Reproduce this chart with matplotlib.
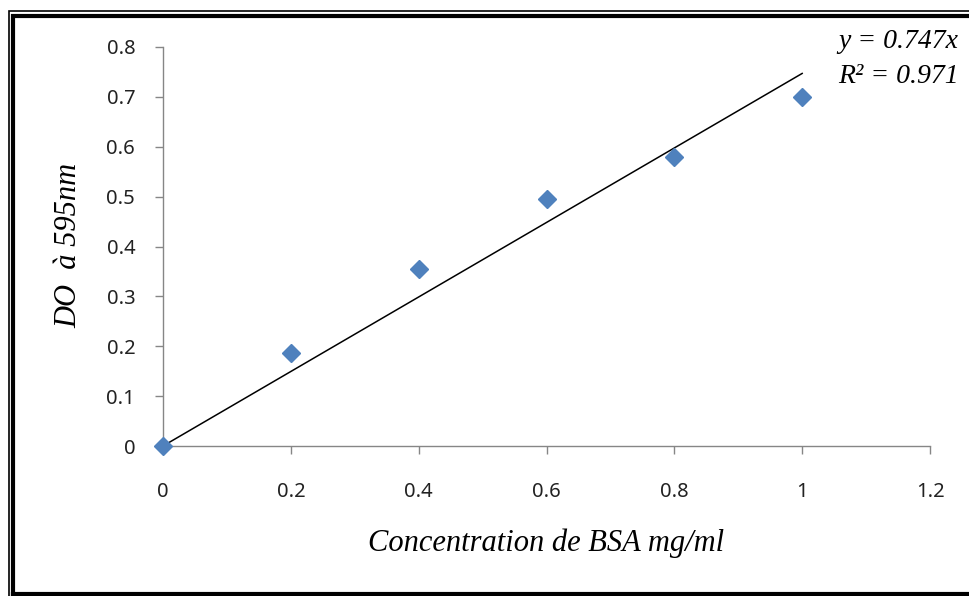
import matplotlib
matplotlib.use("Agg")
import matplotlib.pyplot as plt
from matplotlib.lines import Line2D

# BSA calibration data
conc = [0, 0.2, 0.4, 0.6, 0.8, 1.0]
absorb = [0.0, 0.187, 0.355, 0.495, 0.58, 0.70]
slope = 0.747
r2 = 0.971
x_ticks = [0, 0.2, 0.4, 0.6, 0.8, 1, 1.2]
x_tick_labels = ["0", "0.2", "0.4", "0.6", "0.8", "1", "1.2"]
y_ticks = [0, 0.1, 0.2, 0.3, 0.4, 0.5, 0.6, 0.7, 0.8]
y_tick_labels = ["0", "0.1", "0.2", "0.3", "0.4", "0.5", "0.6", "0.7", "0.8"]

W, H = 969, 596
fig = plt.figure(figsize=(W / 100, H / 100), dpi=100)
ax = fig.add_axes([163 / W, 1 - 446 / H, (930 - 163) / W, (446 - 47) / H])

axis_grey = "#868686"
serif = ["Liberation Serif", "DejaVu Serif"]

# --- trend line (through origin) ---
fit_x = [conc[0], conc[-1]]
fit_y = [slope * v for v in fit_x]
ax.plot(fit_x, fit_y, color="black", linewidth=1.1, zorder=2)

# --- data points ---
ax.plot(conc, absorb, linestyle="none", marker="D", markersize=9.5,
        color="#4F81BD", markeredgecolor="#4F81BD", zorder=3, clip_on=False)

ax.set_xlim(0, 1.2)
ax.set_ylim(0, 0.8)
ax.set_xticks(x_ticks)
ax.set_xticklabels(x_tick_labels)
ax.set_yticks(y_ticks)
ax.set_yticklabels(y_tick_labels)

for side in ["top", "right"]:
    ax.spines[side].set_visible(False)
for side in ["left", "bottom"]:
    ax.spines[side].set_color(axis_grey)
    ax.spines[side].set_linewidth(1.0)

ax.tick_params(axis="both", direction="out", length=6, width=1.0,
               color=axis_grey, labelsize=14.5, labelcolor="#222222")
ax.tick_params(axis="y", pad=14)
ax.tick_params(axis="x", pad=20)
for lab in ax.get_xticklabels() + ax.get_yticklabels():
    lab.set_family(["Noto Sans", "DejaVu Sans"])

# --- axis titles ---
fig.text(546 / W, 1 - 543 / H, "Concentration de BSA mg/ml", family=serif,
         style="italic", fontsize=22, ha="center", va="center")
fig.text(69 / W, 1 - 245 / H, "DO  à 595nm", family=serif, style="italic",
         fontsize=22, rotation=90, ha="center", va="center")

# --- trendline equation ---
fig.text(838 / W, 1 - 48 / H, f"y = {slope}x", family=serif, style="italic",
         fontsize=20, ha="left", va="baseline")
fig.text(838 / W, 1 - 83 / H, f"R² = {r2}", family=serif, style="italic",
         fontsize=20, ha="left", va="baseline")

# --- double frame around the chart ---
def frame(left, top, right, bottom, lw):
    xs = [left / W, left / W, right / W, right / W, left / W]
    ys = [1 - bottom / H, 1 - top / H, 1 - top / H, 1 - bottom / H, 1 - bottom / H]
    fig.add_artist(Line2D(xs, ys, transform=fig.transFigure, color="black",
                          linewidth=lw, solid_joinstyle="miter"))

frame(8.5, 10.5, 980, 600, 1.2)
frame(13, 16, 975, 593.5, 3.0)

fig.savefig("out.png", dpi=100)
